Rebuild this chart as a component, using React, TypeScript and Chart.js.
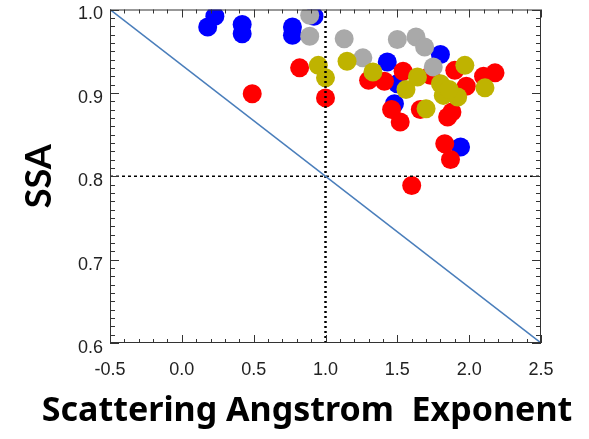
import { useEffect, useRef } from "react";
import { Chart, registerables } from "chart.js";

Chart.register(...registerables);

// ---- axis ranges and ticks ----
const X_MIN = -0.5;
const X_MAX = 2.5;
const Y_MIN = 0.6;
const Y_MAX = 1.0;
const xTickValues = [-0.5, 0.0, 0.5, 1.0, 1.5, 2.0, 2.5];
const yTickValues = [0.6, 0.7, 0.8, 0.9, 1.0];
const xTitle = "Scattering Angstrom  Exponent";
const yTitle = "SSA";

// ---- reference lines ----
const refLineX = 1.0;
const refLineY = 0.8;
const diagX = [-0.5, 2.5];
const diagY = [1.0, 0.6];

// ---- series (Scattering Angstrom Exponent, SSA) ----
const blueX = [0.23, 0.18, 0.42, 0.42, 0.77, 0.77, 0.92, 1.43, 1.5, 1.48, 1.8, 1.94];
const blueY = [0.992, 0.979, 0.982, 0.971, 0.979, 0.969, 0.992, 0.937, 0.911, 0.887, 0.946, 0.835];

const grayX = [0.89, 0.89, 1.13, 1.5, 1.63, 1.69, 1.26, 1.75];
const grayY = [0.993, 0.968, 0.965, 0.964, 0.967, 0.955, 0.942, 0.931];

const redX = [0.82, 0.49, 1.0, 1.3, 1.41, 1.54, 1.73, 1.9, 1.98, 2.1, 2.18, 1.46, 1.52, 1.66, 1.88, 1.85, 1.83, 1.87, 1.6];
const redY = [0.93, 0.899, 0.894, 0.915, 0.914, 0.926, 0.921, 0.927, 0.908, 0.92, 0.924, 0.88, 0.865, 0.88, 0.877, 0.871, 0.839, 0.82, 0.789];

const yellowX = [0.95, 1.0, 1.15, 1.33, 1.56, 1.64, 1.7, 1.97, 2.11, 1.8, 1.82, 1.92, 1.86];
const yellowY = [0.933, 0.918, 0.938, 0.925, 0.904, 0.919, 0.881, 0.933, 0.906, 0.911, 0.897, 0.895, 0.904];

const toPts = (xs: number[], ys: number[]) => xs.map((x, i) => ({ x, y: ys[i] }));

const framePlugin = {
  id: "idlFrame",
  afterDatasetsDraw(chart: any) {
    const { ctx, chartArea } = chart;
    const { left, right, top, bottom } = chartArea;
    const xs = chart.scales.x;
    const ys = chart.scales.y;
    ctx.save();
    ctx.strokeStyle = "#333333";
    ctx.lineWidth = 1;
    ctx.beginPath();
    const nx = Math.round((X_MAX - X_MIN) / 0.1);
    for (let i = 0; i <= nx; i++) {
      const v = X_MIN + i * 0.1;
      const px = Math.round(xs.getPixelForValue(v)) + 0.5;
      const len = i % 5 === 0 ? 8 : 4;
      ctx.moveTo(px, bottom);
      ctx.lineTo(px, bottom - len);
      ctx.moveTo(px, top);
      ctx.lineTo(px, top + len);
    }
    const ny = Math.round((Y_MAX - Y_MIN) / 0.01);
    for (let i = 0; i <= ny; i++) {
      const v = Y_MIN + i * 0.01;
      const py = Math.round(ys.getPixelForValue(v)) + 0.5;
      const len = i % 10 === 0 ? 9 : 5;
      ctx.moveTo(left, py);
      ctx.lineTo(left + len, py);
      ctx.moveTo(right, py);
      ctx.lineTo(right - len, py);
    }
    ctx.stroke();
    ctx.strokeRect(left + 0.5, top + 0.5, right - left - 1, bottom - top - 1);
    ctx.restore();
  },
  afterDraw(chart: any) {
    // x-axis title, free to extend wider than the axis (no maxWidth squeeze)
    const { ctx } = chart;
    ctx.save();
    ctx.fillStyle = "#000000";
    ctx.font = "bold 34px 'Noto Sans', 'DejaVu Sans', sans-serif";
    ctx.textAlign = "center";
    ctx.textBaseline = "alphabetic";
    ctx.fillText(xTitle, 307, 421);
    ctx.restore();
  },
};

export default function App() {
  const ref = useRef<HTMLCanvasElement | null>(null);

  useEffect(() => {
    if (!ref.current) return;
    const pointDs = (label: string, xs: number[], ys: number[], color: string, order: number) => ({
      type: "scatter" as const,
      label,
      data: toPts(xs, ys),
      backgroundColor: color,
      borderColor: color,
      borderWidth: 0,
      pointRadius: 9.5,
      pointHoverRadius: 9.5,
      order,
      clip: 0,
    });
    const chart = new Chart(ref.current, {
      type: "scatter",
      data: {
        datasets: [
          {
            type: "line",
            label: "diag",
            data: toPts(diagX, diagY),
            borderColor: "#4a7ebb",
            borderWidth: 1.5,
            pointRadius: 0,
            showLine: true,
            fill: false,
            order: 0,
          } as any,
          {
            type: "line",
            label: "vref",
            data: [
              { x: refLineX, y: Y_MIN },
              { x: refLineX, y: Y_MAX },
            ],
            borderColor: "#000000",
            borderWidth: 2.5,
            borderDash: [2, 3],
            pointRadius: 0,
            showLine: true,
            fill: false,
            order: 0,
          } as any,
          {
            type: "line",
            label: "href",
            data: [
              { x: X_MIN, y: refLineY },
              { x: X_MAX, y: refLineY },
            ],
            borderColor: "#000000",
            borderWidth: 1.5,
            borderDash: [3, 3],
            pointRadius: 0,
            showLine: true,
            fill: false,
            order: 0,
          } as any,
          pointDs("yellow", yellowX, yellowY, "#bfb300", 1),
          pointDs("gray", grayX, grayY, "#a9a9a9", 2),
          pointDs("red", redX, redY, "#ff0000", 3),
          pointDs("blue", blueX, blueY, "#0000ff", 4),
        ],
      },
      options: {
        responsive: false,
        devicePixelRatio: 1,
        animation: false,
        events: [],
        layout: { padding: { top: 7, right: 48, left: 0, bottom: 0 } },
        plugins: { legend: { display: false }, tooltip: { enabled: false } },
        scales: {
          x: {
            type: "linear",
            min: X_MIN,
            max: X_MAX,
            grid: { display: false, drawTicks: false },
            border: { display: false },
            afterBuildTicks: (s: any) => {
              s.ticks = xTickValues.map((v) => ({ value: v }));
            },
            afterFit: (s: any) => {
              s.height = 96;
              s.paddingLeft = 0;
              s.paddingRight = 0;
            },
            ticks: {
              autoSkip: false,
              maxRotation: 0,
              padding: 16,
              color: "#222222",
              font: { family: "'Liberation Sans', Arial, sans-serif", size: 18 },
              callback: (v: any) => Number(v).toFixed(1),
            },
            title: { display: false },
          },
          y: {
            type: "linear",
            min: Y_MIN,
            max: Y_MAX,
            grid: { display: false, drawTicks: false },
            border: { display: false },
            afterBuildTicks: (s: any) => {
              s.ticks = yTickValues.map((v) => ({ value: v }));
            },
            afterFit: (s: any) => {
              s.width = 110;
              s.paddingTop = 0;
              s.paddingBottom = 0;
            },
            ticks: {
              autoSkip: false,
              padding: 7,
              labelOffset: 5,
              color: "#222222",
              font: { family: "'Liberation Sans', Arial, sans-serif", size: 18 },
              callback: (v: any) => Number(v).toFixed(1),
            },
            title: {
              display: true,
              text: yTitle,
              color: "#000000",
              font: { family: "Lato, 'Open Sans', sans-serif", size: 36, weight: "bold" },
              padding: { top: 18, bottom: 0 },
            },
          },
        },
      },
      plugins: [framePlugin],
    });
    return () => chart.destroy();
  }, []);

  return (
    <div style={{ position: "fixed", left: 0, top: 0, width: 589, height: 439, background: "#ffffff" }}>
      <canvas ref={ref} width={589} height={439} style={{ display: "block", width: 589, height: 439 }} />
    </div>
  );
}
